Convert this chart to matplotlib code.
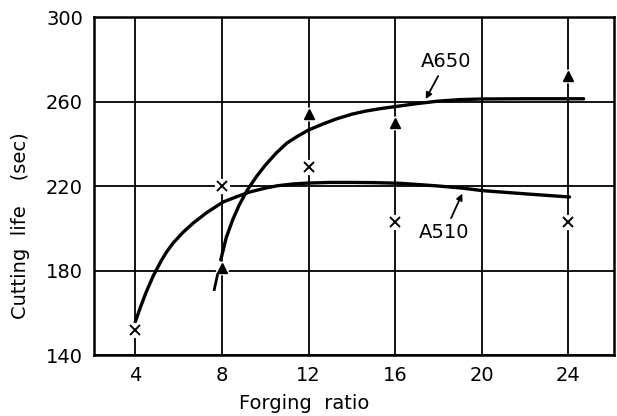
import matplotlib
matplotlib.use('Agg')

import matplotlib.pyplot as plt

# measured points (forging ratio, cutting life in sec)
a510_x = [4, 8, 12, 16, 24]
a510_y = [152, 220, 229, 203, 203]
a650_x = [8, 12, 16, 24]
a650_y = [181, 254, 250, 272]

# hand-drawn trend curves
a510_curve_x = [4.0, 4.23, 4.5, 4.83, 5.2, 5.45, 5.75, 6.2, 6.67, 7.3, 8.05, 8.7, 9.3, 10.0,
                10.55, 11.3, 12.0, 13.0, 14.0, 15.0, 16.2, 17.2, 18.0, 19.1, 20.05, 22.0, 24.05]
a510_curve_y = [155.6, 162.3, 169.6, 177.4, 184.6, 188.8, 193.0, 198.0, 202.4, 207.4, 212.4, 215.0, 217.2, 219.0,
                220.1, 221.0, 221.4, 221.7, 221.7, 221.6, 221.3, 220.6, 220.0, 219.0, 217.8, 216.3, 214.8]
a650_curve_x = [7.95, 8.2, 8.5, 8.8, 9.2, 9.6, 10.0, 10.5, 11.0, 11.5, 12.0, 12.7, 13.3,
                14.0, 14.6, 15.3, 16.0, 17.0, 18.0, 19.0, 20.0, 22.0, 24.7]
a650_curve_y = [185.0, 195.5, 204.0, 211.0, 218.5, 224.5, 229.8, 235.5, 240.3, 243.6, 246.5, 249.5, 251.8,
                254.0, 255.4, 256.6, 257.6, 259.0, 260.2, 260.9, 261.2, 261.3, 261.3]
a650_dash_x = [7.65, 7.8]
a650_dash_y = [171.0, 178.0]

x_ticks = [4, 8, 12, 16, 20, 24]
y_ticks = [140, 180, 220, 260, 300]

plt.rcParams['font.family'] = 'DejaVu Sans'

fig = plt.figure(figsize=(6.17, 4.16), dpi=100)
ax = fig.add_axes([0.1524, 0.1466, 0.8427, 0.8125])

ax.set_xlim(2.1, 26.1)
ax.set_ylim(140, 300)
ax.set_xticks(x_ticks)
ax.set_yticks(y_ticks)
ax.tick_params(length=0, labelsize=14, pad=8)
ax.grid(True, color='black', linewidth=1.3)
ax.set_axisbelow(True)
for sp in ax.spines.values():
    sp.set_linewidth(1.8)

# curves
ax.plot(a510_curve_x, a510_curve_y, color='black', linewidth=2.4, zorder=3,
        solid_joinstyle='round', solid_capstyle='round')
ax.plot(a650_curve_x, a650_curve_y, color='black', linewidth=2.4, zorder=3,
        solid_joinstyle='round', solid_capstyle='round')
ax.plot(a650_dash_x, a650_dash_y, color='black', linewidth=2.0, zorder=3)

# white halo behind markers so grid lines break around them
ax.plot(a510_x, a510_y, 'o', color='white', markersize=10, zorder=4)
ax.plot(a650_x, a650_y, 'o', color='white', markersize=9, zorder=4)
ax.plot(a510_x, a510_y, 'x', color='black', markersize=7, mew=1.4, zorder=5)
ax.plot(a650_x, a650_y, '^', color='black', markersize=7, zorder=5)

arrow = dict(arrowstyle='-|>', color='black', lw=1.3, mutation_scale=9)
ax.annotate('A650', xy=(17.35, 260), xytext=(18.35, 279),
            ha='center', va='center', fontsize=14, arrowprops=arrow)
ax.annotate('A510', xy=(19.15, 217.6), xytext=(18.27, 197.8),
            ha='center', va='center', fontsize=14, arrowprops=arrow)

fig.text(0.033, 0.457, 'Cutting  life    (sec)', rotation=90,
         ha='center', va='center', fontsize=14)
fig.text(0.493, 0.031, 'Forging  ratio', ha='center', va='center', fontsize=14)

plt.savefig('out.png', dpi=100)
plt.close(fig)
